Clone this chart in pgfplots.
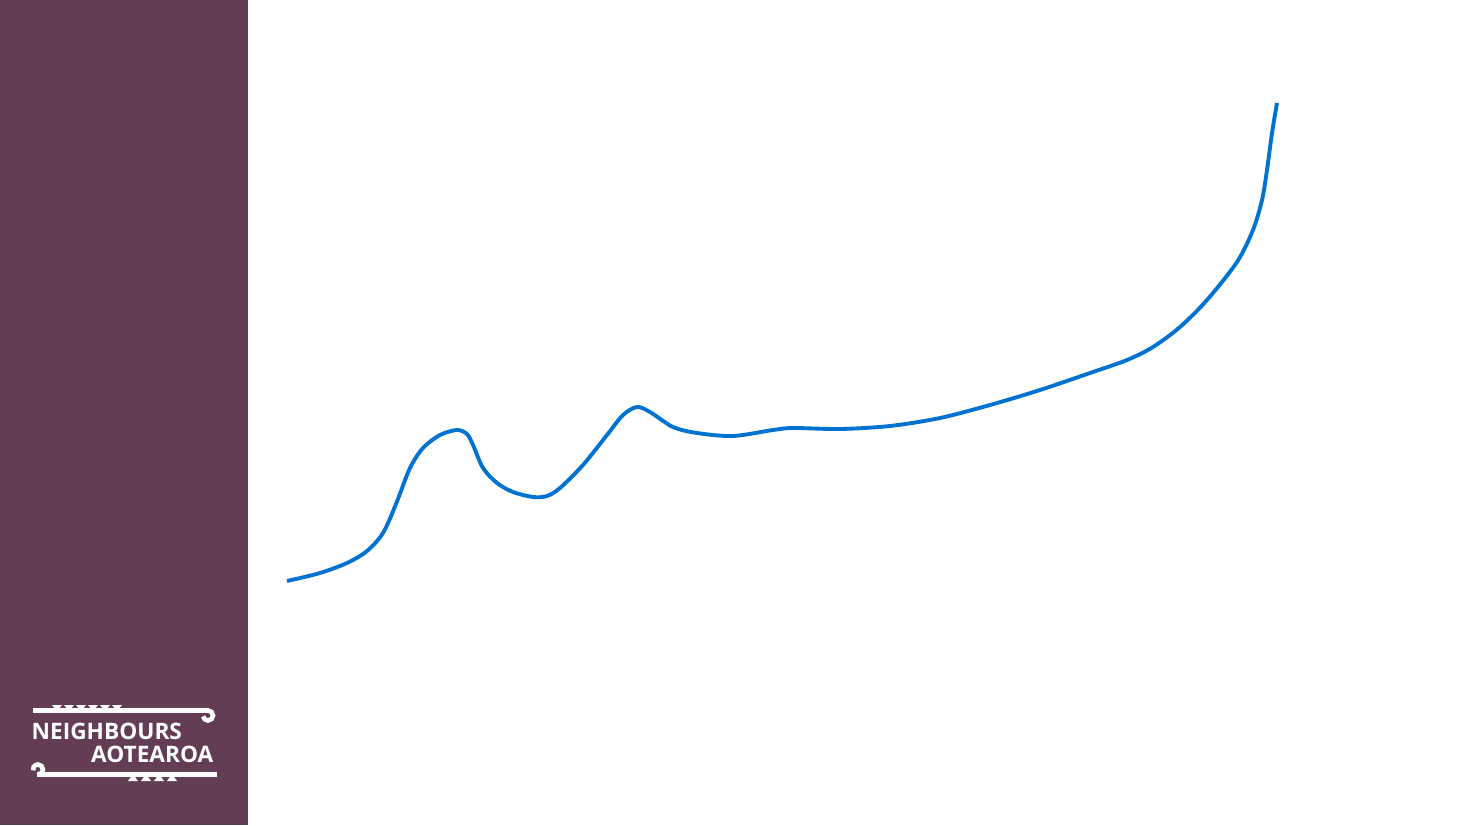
\documentclass[border=0pt]{standalone}
\usepackage{pgfplots}
\pgfplotsset{compat=1.18}
\usepackage{fontspec}
\setmainfont{Open Sans}
\definecolor{panelpurple}{RGB}{99,61,84}
\definecolor{lineblue}{RGB}{0,114,210}
\begin{document}
\begin{tikzpicture}
\begin{axis}[
  scale only axis,
  width=14.69cm, height=8.25cm,
  xmin=0, xmax=1469, ymin=0, ymax=825,
  y dir=reverse,
  hide axis,
  clip=false,
]
% slide background and side panel
\fill[white] (axis cs:0,0) rectangle (axis cs:1469,825);
\fill[panelpurple] (axis cs:0,0) rectangle (axis cs:248,825);

% logo: top bar with hook and zigzag
\fill[white] (axis cs:33,708) rectangle (axis cs:209,713);
\draw[white, line width=1.3pt] (axis cs:208,710.5) arc[start angle=90, end angle=-170, radius=0.5mm];
\pgfplotsinvokeforeach{52,64,76,88,100,112}{
  \fill[white] (axis cs:#1,705) -- (axis cs:#1+10,705) -- (axis cs:#1+5,711) -- cycle;
}
% bottom bar with hook and zigzag
\fill[white] (axis cs:37,772) rectangle (axis cs:217,777);
\draw[white, line width=1.3pt] (axis cs:38,774.5) arc[start angle=-90, end angle=190, radius=0.5mm];
\pgfplotsinvokeforeach{128,141,154,167}{
  \fill[white] (axis cs:#1,781) -- (axis cs:#1+10,781) -- (axis cs:#1+5,774) -- cycle;
}
\node[anchor=base west, inner sep=0pt, text=white, font=\bfseries\fontsize{6.45}{8}\selectfont]
  at (axis cs:31,739) {NEIGHBOURS};
\node[anchor=base east, inner sep=0pt, text=white, font=\bfseries\fontsize{6.45}{8}\selectfont]
  at (axis cs:214,762) {AOTEAROA};

% the series
\addplot[lineblue, line width=1.1pt, smooth, tension=0.5] coordinates {
(287,581) (320,573) (347,563) (367,551) (383,533) (396,504)
(410,468) (423,448) (440,435) (457,430) (467,434) (473,445) (483,468)
(497,483) (513,492) (533,497) (547,496) (560,488) (583,465) (607,435)
(623,415) (637,407) (650,412) (673,427) (697,433) (733,436) (773,430)
(793,428) (840,429) (890,426) (940,418) (990,405) (1040,390) (1090,373)
(1127,360) (1153,347) (1180,327) (1207,300) (1237,262) (1253,230)
(1262,200) (1267,170) (1272,133) (1277,103)
};
\end{axis}
\end{tikzpicture}
\end{document}
